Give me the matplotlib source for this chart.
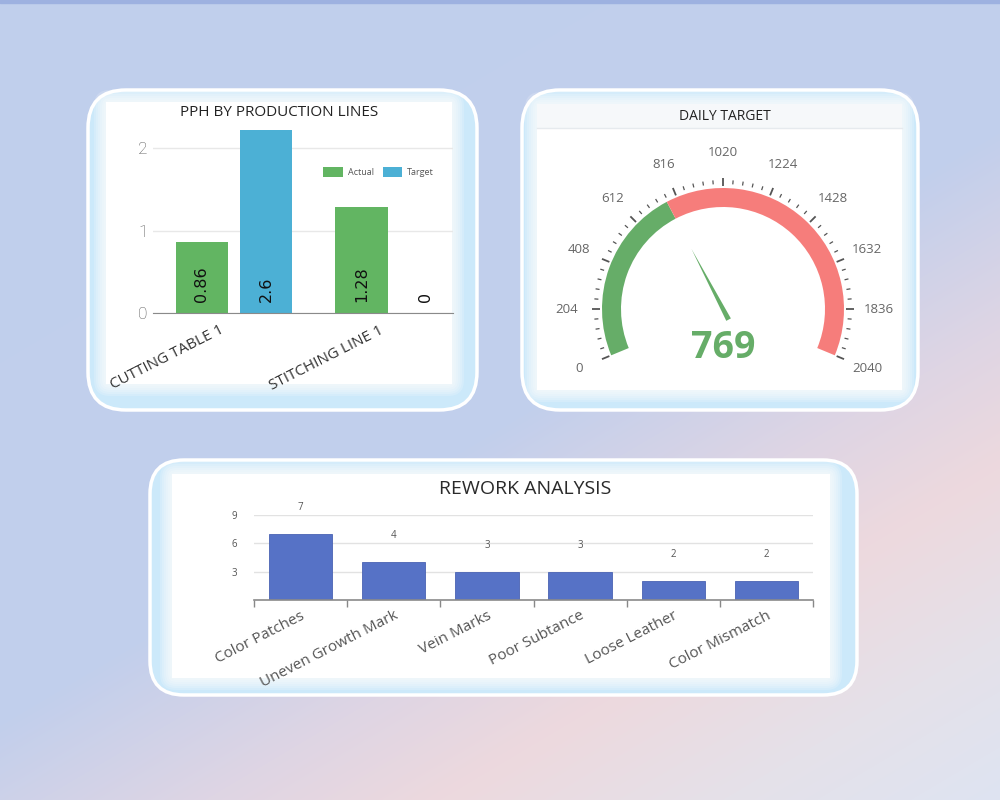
import numpy as np
import matplotlib
matplotlib.use("Agg")
import matplotlib.pyplot as plt
from matplotlib.patches import FancyBboxPatch, Wedge, Polygon, Rectangle

# --- data ---
pph_lines = ["CUTTING TABLE 1", "STITCHING LINE 1"]
pph_actual = [0.86, 1.28]
pph_target = [2.6, 0]

gauge_value = 769
gauge_max = 2040
gauge_ticks = [0, 204, 408, 612, 816, 1020, 1224, 1428, 1632, 1836, 2040]

rework_causes = ["Color Patches", "Uneven Growth Mark", "Vein Marks",
                 "Poor Subtance", "Loose Leather", "Color Mismatch"]
rework_counts = [7, 4, 3, 3, 2, 2]

GREEN = "#62b562"
BLUE = "#4cb0d5"
G_GREEN = "#66ad68"
G_RED = "#f67d7b"
RW_BLUE = "#5672c6"

plt.rcParams["font.family"] = ["Open Sans", "DejaVu Sans"]

fig = plt.figure(figsize=(10, 8), dpi=100)

# --- background (pixel coordinates) ---
bg = fig.add_axes([0, 0, 1, 1])
bg.set_xlim(0, 1000)
bg.set_ylim(800, 0)
bg.axis("off")

yy, xx = np.mgrid[0:800, 0:1000]
t = (0.51 * xx + 0.86 * yy) / 1200.0
stops = [0.0, 0.52, 0.66, 0.76, 0.88, 1.0]
cols = np.array([(192, 207, 236), (194, 207, 236), (222, 213, 228),
                 (237, 217, 222), (229, 225, 233), (222, 228, 242)]) / 255.0
img = np.dstack([np.interp(t, stops, cols[:, c]) for c in range(3)])
bg.imshow(img, extent=[0, 1000, 800, 0], aspect="auto", zorder=0)
bg.add_patch(Rectangle((0, 0), 1000, 2.5, color="#9db1e0", zorder=1))


def panel(x0, y0, x1, y1, ix0, iy0, ix1, iy1, r=38):
    bg.add_patch(FancyBboxPatch((x0, y0), x1 - x0, y1 - y0,
                                boxstyle=f"round,pad=0,rounding_size={r}",
                                facecolor="#cce9fa", edgecolor="white",
                                lw=2.5, zorder=2))
    # soft white inner area
    for k in range(6, 0, -1):
        e = k * 2.0
        bg.add_patch(FancyBboxPatch((ix0 - e, iy0 - e), ix1 - ix0 + 2 * e, iy1 - iy0 + 2 * e,
                                    boxstyle=f"round,pad=0,rounding_size={4 + e}",
                                    facecolor="white", edgecolor="none",
                                    alpha=0.18, zorder=3))
    bg.add_patch(Rectangle((ix0, iy0), ix1 - ix0, iy1 - iy0,
                           facecolor="white", edgecolor="none", zorder=3))


panel(88, 90, 477, 410, 106, 102, 452, 384)
panel(522, 90, 918, 410, 537, 104, 902, 390)
panel(150, 460, 857, 695, 172, 474, 830, 678, r=34)

# gauge header band
bg.add_patch(Rectangle((537, 104), 365, 24, facecolor="#f6f8fa",
                       edgecolor="none", zorder=4))
bg.plot([537, 902], [128, 128], color="#e6eaee", lw=1, zorder=4)

# --- PPH by production lines ---
fig.text(0.279, 1 - 112 / 800, "PPH BY PRODUCTION LINES", ha="center",
         va="center", fontsize=11, color="#222222")
ax1 = fig.add_axes([0.153, 1 - 313 / 800, 0.300, 183 / 800])
x = np.arange(len(pph_lines))
w = 0.33
b1 = ax1.bar(x - 0.2, pph_actual, w, color=GREEN, label="Actual", zorder=2)
b2 = ax1.bar(x + 0.2, pph_target, w, color=BLUE, label="Target", zorder=2)
for bars, vals in ((b1, pph_actual), (b2, pph_target)):
    for rect, v in zip(bars, vals):
        ax1.annotate(f"{v:g}", (rect.get_x() + rect.get_width() / 2, 0),
                     xytext=(0, 8), textcoords="offset points",
                     ha="center", va="bottom", rotation=90, fontsize=11.5,
                     color="#111111", family="DejaVu Sans",
                     annotation_clip=False, zorder=3)
ax1.set_xlim(-0.506, 1.37)
ax1.set_ylim(0, 2.22)
ax1.set_yticks([0, 1, 2])
ax1.set_yticklabels(["0", "1", "2"], fontsize=12.5, color="#555555",
                    family="Roboto", fontweight="light")
ax1.set_xticks(x - 0.09)
ax1.set_xticklabels(pph_lines, rotation=27, ha="right",
                    rotation_mode="anchor", fontsize=11, color="#333333")
# the first letter fades into the panel edge, as in the dashboard
clip1 = Rectangle((104, 100), 352, 296, transform=bg.transData)
for lbl in ax1.get_xticklabels():
    lbl.set_clip_path(clip1)
ax1.tick_params(axis="both", length=0, pad=4)
ax1.tick_params(axis="x", pad=7)
ax1.grid(axis="y", color="#e8e8e8", lw=1, zorder=0)
for s in ("top", "right", "left"):
    ax1.spines[s].set_visible(False)
ax1.spines["bottom"].set_color("#8a8a8a")
ax1.set_facecolor("none")
ax1.legend(loc="center left", bbox_to_anchor=(0.54, 0.77), ncol=2,
           frameon=False, fontsize=6.5, handlelength=2.2, handleheight=1.3,
           columnspacing=1.0, handletextpad=0.5, labelcolor="#555555")

# --- Daily target gauge ---
fig.text(0.725, 1 - 116 / 800, "DAILY TARGET", ha="center", va="center",
         fontsize=10, color="#222222")
U = 120.0  # pixels per gauge unit
gx0, gx1, gy0, gy1 = 553, 893, 140, 390
cx, cy = 723, 309
ax2 = fig.add_axes([gx0 / 1000, 1 - gy1 / 800, (gx1 - gx0) / 1000, (gy1 - gy0) / 800])
ax2.set_xlim((gx0 - cx) / U, (gx1 - cx) / U)
ax2.set_ylim((cy - gy1) / U, (cy - gy0) / U)
ax2.axis("off")

a_start, a_end = 202.5, -22.5


def ang(v):
    return a_start - (a_start - a_end) * v / gauge_max


r_out, band = 121 / U, 19 / U
av = ang(gauge_value)
ax2.add_patch(Wedge((0, 0), r_out, av, a_start, width=band, color=G_GREEN, lw=0))
ax2.add_patch(Wedge((0, 0), r_out, a_end, av, width=band, color=G_RED, lw=0))

minor = np.linspace(0, gauge_max, 51)
for i, v in enumerate(minor):
    th = np.radians(ang(v))
    if i % 5 == 0:
        r0, r1, lw = 123 / U, 131 / U, 1.3
    else:
        r0, r1, lw = 125 / U, 129 / U, 0.9
    ax2.plot([r0 * np.cos(th), r1 * np.cos(th)], [r0 * np.sin(th), r1 * np.sin(th)],
             color="#555555", lw=lw, solid_capstyle="butt")
for v in gauge_ticks:
    th = np.radians(ang(v))
    rl = 156 / U
    ax2.text(rl * np.cos(th), rl * np.sin(th), str(v), ha="center", va="center",
             fontsize=9.5, color="#666666")

th = np.radians(av)
d = np.array([np.cos(th), np.sin(th)])
p = np.array([-d[1], d[0]])
tip = d * 68 / U
base = -d * 12 / U
hw = 2.6 / U
ax2.add_patch(Polygon([tip, base + p * hw, base - p * hw], closed=True,
                      color=G_GREEN, lw=0))
ax2.text(0, -39 / U, str(gauge_value), ha="center", va="center", fontsize=27,
         fontweight="bold", color=G_GREEN)

# --- Rework analysis ---
fig.text(0.525, 1 - 489 / 800, "REWORK ANALYSIS", ha="center", va="center",
         fontsize=14, color="#2a2a2a", fontweight="medium")
ax3 = fig.add_axes([0.254, 0.25, 0.559, 85 / 800])
xr = np.arange(len(rework_causes))
bars = ax3.bar(xr, rework_counts, 0.68, color=RW_BLUE, edgecolor="#4a63b3",
               lw=0.6, zorder=2)
for rect, v in zip(bars, rework_counts):
    ax3.annotate(str(v), (rect.get_x() + rect.get_width() / 2, v),
                 xytext=(0, 19), textcoords="offset points", ha="center",
                 va="center", fontsize=7, color="#555555",
                 annotation_clip=False)
ax3.set_xlim(-0.5, 5.5)
ax3.set_ylim(0, 9)
ax3.set_yticks([3, 6, 9])
ax3.set_yticklabels(["3", "6", "9"], fontsize=7, color="#555555")
ax3.tick_params(axis="y", length=0, pad=12)
ax3.set_xticks(xr)
ax3.set_xticklabels(rework_causes, rotation=27, ha="right",
                    rotation_mode="anchor", fontsize=11, color="#555555")
ax3.tick_params(axis="x", which="major", length=0, pad=6)
ax3.set_xticks(np.arange(-0.5, 6.0, 1.0), minor=True)
ax3.tick_params(axis="x", which="minor", length=5, color="#888888", width=1)
ax3.grid(axis="y", color="#e2e2e2", lw=1, zorder=0)
for s in ("top", "right", "left"):
    ax3.spines[s].set_visible(False)
ax3.spines["bottom"].set_color("#8a8a8a")
ax3.spines["bottom"].set_linewidth(1.2)
ax3.set_facecolor("none")

fig.savefig("out.png", dpi=100)
